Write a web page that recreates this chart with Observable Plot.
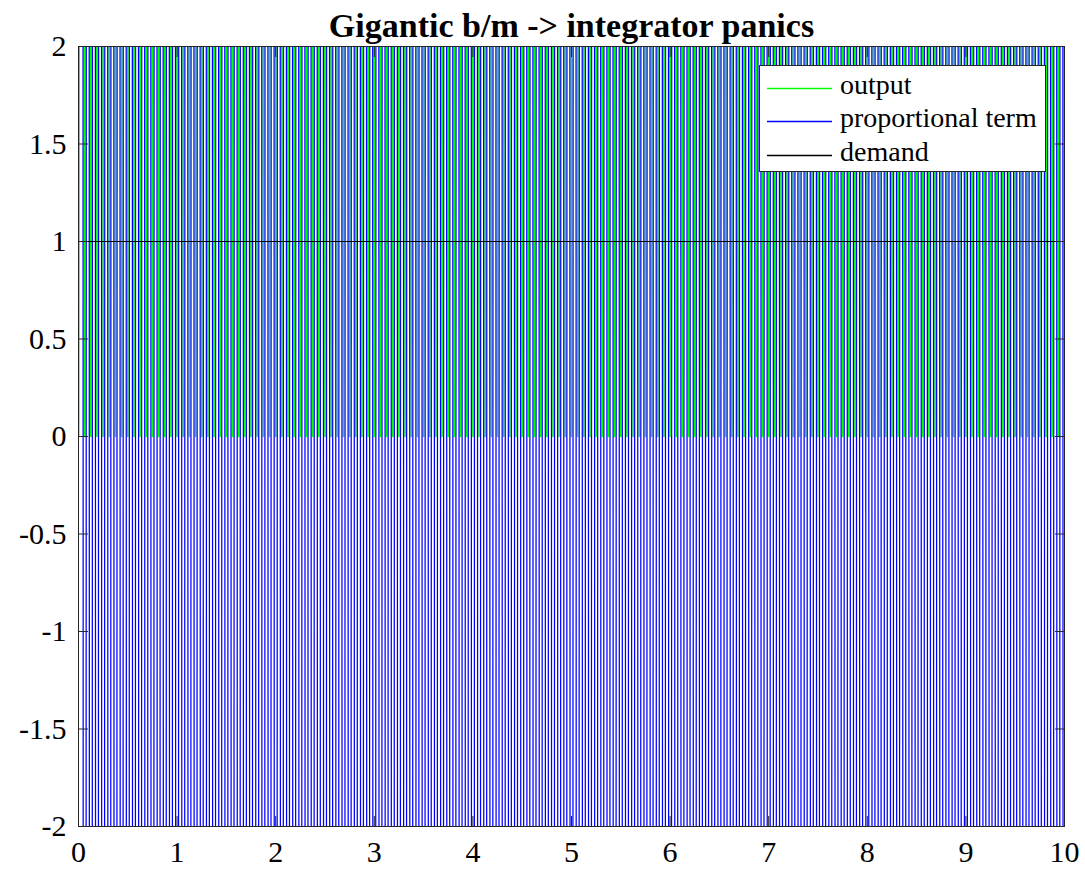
<!DOCTYPE html>
<html>
<head>
<meta charset="utf-8">
<script src="https://cdn.jsdelivr.net/npm/d3@7"></script>
<script src="https://cdn.jsdelivr.net/npm/@observablehq/plot@0.6"></script>
<style>
  html, body { margin: 0; padding: 0; background: #fff; }
  #wrap { position: relative; width: 1085px; height: 871px; }
  #legend {
    position: absolute; left: 759px; top: 65px; width: 285px; height: 105px;
    background: #fff; border: 1px solid #262626;
    font-family: "Liberation Serif", "Times New Roman", serif; font-size: 28px; color: #000;
  }
  #legend .row { position: absolute; left: 0; height: 30px; width: 100%; }
  #legend svg { position: absolute; left: 7px; top: 0; }
  #legend span { position: absolute; left: 80px; top: -3px; line-height: 30px; white-space: nowrap; }
</style>
</head>
<body>
<div id="wrap"></div>
<script>
// Simulation run: sample interval and the logged signals.
const dt = 0.03125;
const time = d3.range(0, 321).map(k => k * dt);

// Plant output: bangs between 0 and far above the view every sample.
const output = [
  0, 40, 0, 40, 0, 40, 0, 40, 0, 40, 0, 40, 0, 40, 0, 40, 0, 40, 0, 40,
  0, 40, 0, 40, 0, 40, 0, 40, 0, 40, 0, 40, 0, 40, 0, 40, 0, 40, 0, 40,
  0, 40, 0, 40, 0, 40, 0, 40, 0, 40, 0, 40, 0, 40, 0, 40, 0, 40, 0, 40,
  0, 40, 0, 40, 0, 40, 0, 40, 0, 40, 0, 40, 0, 40, 0, 40, 0, 40, 0, 40,
  0, 40, 0, 40, 0, 40, 0, 40, 0, 40, 0, 40, 0, 40, 0, 40, 0, 40, 0, 40,
  0, 40, 0, 40, 0, 40, 0, 40, 0, 40, 0, 40, 0, 40, 0, 40, 0, 40, 0, 40,
  0, 40, 0, 40, 0, 40, 0, 40, 0, 40, 0, 40, 0, 40, 0, 40, 0, 40, 0, 40,
  0, 40, 0, 40, 0, 40, 0, 40, 0, 40, 0, 40, 0, 40, 0, 40, 0, 40, 0, 40,
  0, 40, 0, 40, 0, 40, 0, 40, 0, 40, 0, 40, 0, 40, 0, 40, 0, 40, 0, 40,
  0, 40, 0, 40, 0, 40, 0, 40, 0, 40, 0, 40, 0, 40, 0, 40, 0, 40, 0, 40,
  0, 40, 0, 40, 0, 40, 0, 40, 0, 40, 0, 40, 0, 40, 0, 40, 0, 40, 0, 40,
  0, 40, 0, 40, 0, 40, 0, 40, 0, 40, 0, 40, 0, 40, 0, 40, 0, 40, 0, 40,
  0, 40, 0, 40, 0, 40, 0, 40, 0, 40, 0, 40, 0, 40, 0, 40, 0, 40, 0, 40,
  0, 40, 0, 40, 0, 40, 0, 40, 0, 40, 0, 40, 0, 40, 0, 40, 0, 40, 0, 40,
  0, 40, 0, 40, 0, 40, 0, 40, 0, 40, 0, 40, 0, 40, 0, 40, 0, 40, 0, 40,
  0, 40, 0, 40, 0, 40, 0, 40, 0, 40, 0, 40, 0, 40, 0, 40, 0, 40, 0, 40,
  0
];

// Proportional term: swings hard both ways every sample.
const proportional = [
  0,
  40, -40, 40, -40, 40, -40, 40, -40, 40, -40, 40, -40, 40, -40, 40, -40, 40, -40, 40, -40,
  40, -40, 40, -40, 40, -40, 40, -40, 40, -40, 40, -40, 40, -40, 40, -40, 40, -40, 40, -40,
  40, -40, 40, -40, 40, -40, 40, -40, 40, -40, 40, -40, 40, -40, 40, -40, 40, -40, 40, -40,
  40, -40, 40, -40, 40, -40, 40, -40, 40, -40, 40, -40, 40, -40, 40, -40, 40, -40, 40, -40,
  40, -40, 40, -40, 40, -40, 40, -40, 40, -40, 40, -40, 40, -40, 40, -40, 40, -40, 40, -40,
  40, -40, 40, -40, 40, -40, 40, -40, 40, -40, 40, -40, 40, -40, 40, -40, 40, -40, 40, -40,
  40, -40, 40, -40, 40, -40, 40, -40, 40, -40, 40, -40, 40, -40, 40, -40, 40, -40, 40, -40,
  40, -40, 40, -40, 40, -40, 40, -40, 40, -40, 40, -40, 40, -40, 40, -40, 40, -40, 40, -40,
  40, -40, 40, -40, 40, -40, 40, -40, 40, -40, 40, -40, 40, -40, 40, -40, 40, -40, 40, -40,
  40, -40, 40, -40, 40, -40, 40, -40, 40, -40, 40, -40, 40, -40, 40, -40, 40, -40, 40, -40,
  40, -40, 40, -40, 40, -40, 40, -40, 40, -40, 40, -40, 40, -40, 40, -40, 40, -40, 40, -40,
  40, -40, 40, -40, 40, -40, 40, -40, 40, -40, 40, -40, 40, -40, 40, -40, 40, -40, 40, -40,
  40, -40, 40, -40, 40, -40, 40, -40, 40, -40, 40, -40, 40, -40, 40, -40, 40, -40, 40, -40,
  40, -40, 40, -40, 40, -40, 40, -40, 40, -40, 40, -40, 40, -40, 40, -40, 40, -40, 40, -40,
  40, -40, 40, -40, 40, -40, 40, -40, 40, -40, 40, -40, 40, -40, 40, -40, 40, -40, 40, -40,
  40, -40, 40, -40, 40, -40, 40, -40, 40, -40, 40, -40, 40, -40, 40, -40, 40, -40, 40, -40
];

// Setpoint.
const demandTime = [0, 10];
const demand = [1, 1];

const xTicks = [0, 1, 2, 3, 4, 5, 6, 7, 8, 9, 10];
const yTicks = [-2, -1.5, -1, -0.5, 0, 0.5, 1, 1.5, 2];
const yTickLabels = ["-2", "-1.5", "-1", "-0.5", "0", "0.5", "1", "1.5", "2"];

const title = "Gigantic b/m -> integrator panics";
const seriesNames = ["output", "proportional term", "demand"];
const seriesColors = ["#00ff00", "#0000ff", "#000000"];

const idx = d3.range(time.length);
const axisColor = "#262626";

const chart = Plot.plot({
  width: 1085,
  height: 871,
  marginLeft: 78,
  marginRight: 21,
  marginTop: 46,
  marginBottom: 45,
  x: {domain: [0, 10]},
  y: {domain: [-2, 2]},
  style: {
    fontFamily: '"Liberation Serif", "Times New Roman", serif',
    fontSize: "30px",
    background: "#fff",
    color: "#000"
  },
  marks: [
    Plot.line(idx, {x: i => time[i], y: i => output[i], stroke: seriesColors[0], strokeWidth: 1.6, clip: true}),
    Plot.line(idx, {x: i => time[i], y: i => proportional[i], stroke: seriesColors[1], strokeWidth: 1.25, clip: true}),
    Plot.line([0, 1], {x: i => demandTime[i], y: i => demand[i], stroke: seriesColors[2], strokeWidth: 1, clip: true}),
    // tick labels
    Plot.axisX(xTicks, {anchor: "bottom", tickSize: 0, tickPadding: 14, label: null, fontSize: 30, tickFormat: d => String(d)}),
    Plot.axisY(yTicks, {anchor: "left", tickSize: 0, tickPadding: 12, label: null, fontSize: 30, tickFormat: (d, i) => yTickLabels[i]}),
    // inward ticks on all four sides
    Plot.axisX(xTicks, {anchor: "bottom", tickSize: -10, text: null, label: null, stroke: axisColor}),
    Plot.axisX(xTicks, {anchor: "top", tickSize: -10, text: null, label: null, stroke: axisColor}),
    Plot.axisY(yTicks, {anchor: "left", tickSize: -10, text: null, label: null, stroke: axisColor}),
    Plot.axisY(yTicks, {anchor: "right", tickSize: -10, text: null, label: null, stroke: axisColor}),
    Plot.frame({stroke: axisColor, strokeWidth: 1}),
    Plot.text([title], {
      frameAnchor: "top", text: d => d, dy: -10, lineAnchor: "bottom",
      fontSize: 34, fontWeight: "bold", fill: "#000"
    })
  ]
});

const wrap = document.getElementById("wrap");
wrap.appendChild(chart);

// Legend box in the upper right of the axes.
const legend = document.createElement("div");
legend.id = "legend";
const rowTops = [7, 40, 74];
seriesNames.forEach((name, i) => {
  const row = document.createElement("div");
  row.className = "row";
  row.style.top = rowTops[i] + "px";
  row.innerHTML =
    `<svg width="66" height="30"><line x1="0" x2="65" y1="15.5" y2="15.5" stroke="${seriesColors[i]}" stroke-width="1.5"/></svg>` +
    `<span>${name}</span>`;
  legend.appendChild(row);
});
wrap.appendChild(legend);
</script>
</body>
</html>
